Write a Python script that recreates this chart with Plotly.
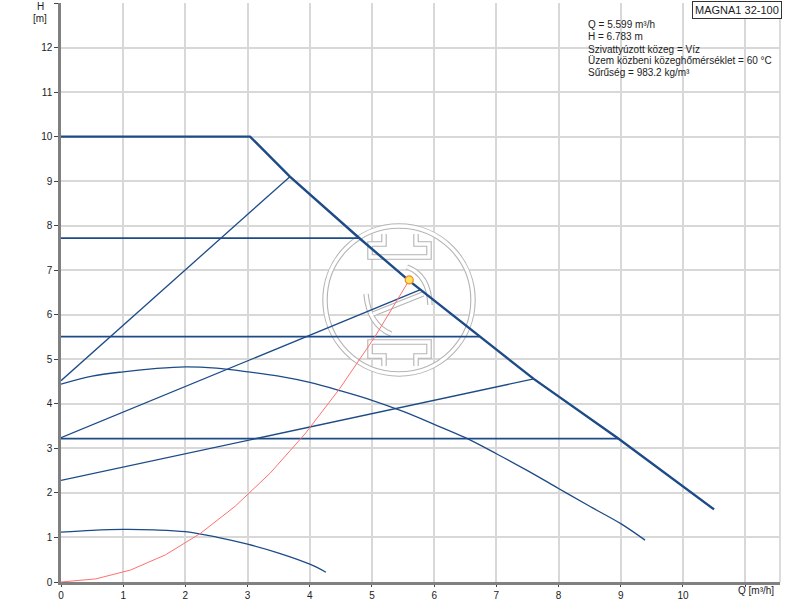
import plotly.graph_objects as go

# ---------------- data ----------------
max_q = [0, 3.04, 3.68, 4.78, 5.60, 6.73, 7.60, 8.96, 10.50]
max_h = [10, 10, 9.10, 7.74, 6.76, 5.51, 4.56, 3.22, 1.63]

pp1_q = [0, 3.68]
pp1_h = [4.52, 9.10]
pp2_q = [0, 5.77]
pp2_h = [3.24, 6.56]
pp3_q = [0, 7.60]
pp3_h = [2.28, 4.56]

cp1_q = [0, 4.78]
cp1_h = [7.72, 7.72]
cp2_q = [0, 6.73]
cp2_h = [5.51, 5.51]
cp3_q = [0, 8.96]
cp3_h = [3.22, 3.22]

mid_q = [0, 0.5, 1, 1.5, 2, 2.5, 3, 3.5, 4, 4.5, 5, 5.5, 6, 6.5, 7, 7.5, 8, 8.5, 9, 9.39]
mid_h = [4.44, 4.62, 4.72, 4.79, 4.83, 4.80, 4.72, 4.62, 4.48, 4.29, 4.08, 3.83, 3.54, 3.24, 2.88, 2.50, 2.10, 1.70, 1.31, 0.94]

low_q = [0, 0.5, 1, 1.5, 2, 2.5, 3, 3.5, 4, 4.26]
low_h = [1.12, 1.16, 1.18, 1.17, 1.13, 1.01, 0.85, 0.65, 0.40, 0.22]

sys_q = [0, 0.56, 1.12, 1.68, 2.24, 2.80, 3.36, 3.92, 4.48, 5.04, 5.60]
sys_h = [0, 0.07, 0.27, 0.61, 1.09, 1.70, 2.44, 3.32, 4.34, 5.49, 6.78]

duty_q = [5.599]
duty_h = [6.783]

x_ticks = list(range(0, 11))
y_ticks = list(range(0, 13))

info_lines = [
    "Q = 5.599 m³/h",
    "H = 6.783 m",
    "Szivattyúzott közeg = Víz",
    "Üzem közbeni közeghőmérséklet = 60 °C",
    "Sűrűség = 983.2 kg/m³",
]
model = "MAGNA1 32-100"

# ---------------- figure ----------------
BLUE = "#1d4b87"
FONT = "Liberation Sans, Arial, sans-serif"

W, H = 800, 600
L, R, T, B = 61, 20, 3, 18
pw, ph = W - L - R, H - T - B
PX = pw / 11.56
PY = ph / 13.0

fig = go.Figure()

def line(q, h, w=1.3, color=BLUE, shape="linear"):
    fig.add_trace(go.Scatter(x=q, y=h, mode="lines",
                             line=dict(color=color, width=w, shape=shape),
                             hoverinfo="skip", showlegend=False))

line(low_q, low_h, shape="spline")
line(mid_q, mid_h, shape="spline")
line(pp1_q, pp1_h)
line(pp2_q, pp2_h)
line(pp3_q, pp3_h)
line(cp1_q, cp1_h, 1.6)
line(cp2_q, cp2_h, 1.6)
line(cp3_q, cp3_h, 1.6)
line(max_q, max_h, 2.4)
line(sys_q, sys_h, 1.0, "#ff7070")

fig.add_trace(go.Scatter(x=duty_q, y=duty_h, mode="markers",
                         marker=dict(size=8, color="#ffe45c",
                                     line=dict(color="#f08a30", width=1.2)),
                         hoverinfo="skip", showlegend=False))

# ---------------- watermark logo ----------------
def xd(px):
    return (px - L) / PX
def yd(py):
    return (H - B - py) / PY

cx, cy = xd(399), yd(300)
shapes = []

def dbl(kind, **kw):
    for col, w in (("#b4b4b4", 5.5), ("white", 3.3)):
        d = dict(type=kind, xref="x", yref="y", xsizemode="pixel", ysizemode="pixel",
                 xanchor=cx, yanchor=cy, layer="between",
                 line=dict(color=col, width=w))
        d.update(kw)
        shapes.append(d)

dbl("circle", x0=-74, x1=74, y0=-74, y1=74)

def path(pts):
    s = "M %g,%g " % (pts[0][0], -pts[0][1])
    for p in pts[1:]:
        s += "L %g,%g " % (p[0], -p[1])
    return s

top = [(-15, -66), (-15, -56), (-29, -56), (-29, -43), (30, -43), (30, -56), (17, -56), (17, -66)]
bot = [(-15, 66), (-15, 56), (-29, 56), (-29, 42), (30, 42), (30, 56), (17, 56), (17, 66)]
dbl("path", path=path(top))
dbl("path", path=path(bot))
dbl("path", path="M 8,33 Q 30,25 31,-5")
dbl("path", path="M -8,-34 Q -30,-25 -33,6")
dbl("path", path="M 24,6 L -26,-14")

# right border
shapes.append(dict(type="line", xref="paper", yref="paper", x0=1, x1=1, y0=0, y1=1,
                   line=dict(color="#d0d0d0", width=1.5), layer="below"))
fig.update_layout(shapes=shapes)

# ---------------- annotations ----------------
def xp(px):
    return (px - L) / pw
def yp(py):
    return (H - B - py) / ph

ann = []
ys = [25, 37, 49, 61, 73]
for t, yy in zip(info_lines, ys):
    ann.append(dict(x=xp(586), y=yp(yy), xref="paper", yref="paper", text=t, showarrow=False,
                    xanchor="left", yanchor="middle",
                    font=dict(family=FONT, size=10, color="#222")))

ann.append(dict(x=xp(737), y=yp(10), xref="paper", yref="paper", text=model, showarrow=False,
                xanchor="center", yanchor="middle", bgcolor="white",
                bordercolor="#333", borderwidth=1, borderpad=2,
                font=dict(family=FONT, size=11, color="#222")))
ann.append(dict(x=xp(40), y=yp(6), xref="paper", yref="paper", text="H",
                showarrow=False, xanchor="center", yanchor="middle",
                font=dict(family=FONT, size=10, color="#222")))
ann.append(dict(x=xp(40), y=yp(19), xref="paper", yref="paper", text="[m]",
                showarrow=False, xanchor="center", yanchor="middle",
                font=dict(family=FONT, size=10, color="#222")))
ann.append(dict(x=xp(736), y=yp(590), xref="paper", yref="paper", text="Q [m³/h]",
                showarrow=False, xanchor="left", yanchor="middle",
                font=dict(family=FONT, size=10, color="#222")))
fig.update_layout(annotations=ann)

fig.update_xaxes(range=[0, 11.56], tickvals=list(range(0, 12)),
                 ticktext=[str(v) for v in x_ticks] + [""],
                 showgrid=True, gridcolor="#d8d8d8", gridwidth=1.5,
                 showline=True, linecolor="#808080", linewidth=2.5,
                 ticks="outside", ticklen=2, tickcolor="#444", tickwidth=1,
                 tickfont=dict(family=FONT, size=10, color="#222"),
                 zeroline=False, mirror=False, automargin=False)
fig.update_yaxes(range=[0, 13], tickvals=list(range(0, 14)),
                 ticktext=[str(v) for v in y_ticks] + [""],
                 showgrid=True, gridcolor="#d8d8d8", gridwidth=1.5,
                 showline=True, linecolor="#808080", linewidth=2.5,
                 ticks="outside", ticklen=4, tickcolor="#444", tickwidth=1,
                 tickfont=dict(family=FONT, size=10, color="#222"),
                 zeroline=False, automargin=False)

fig.update_layout(template="none", width=W, height=H,
                  margin=dict(l=L, r=R, t=T, b=B, autoexpand=False),
                  plot_bgcolor="white", paper_bgcolor="white",
                  font=dict(family=FONT))

fig.write_html("out.html", config={"displayModeBar": False},
               post_script="document.body.style.margin='0';document.body.style.overflow='hidden';")
